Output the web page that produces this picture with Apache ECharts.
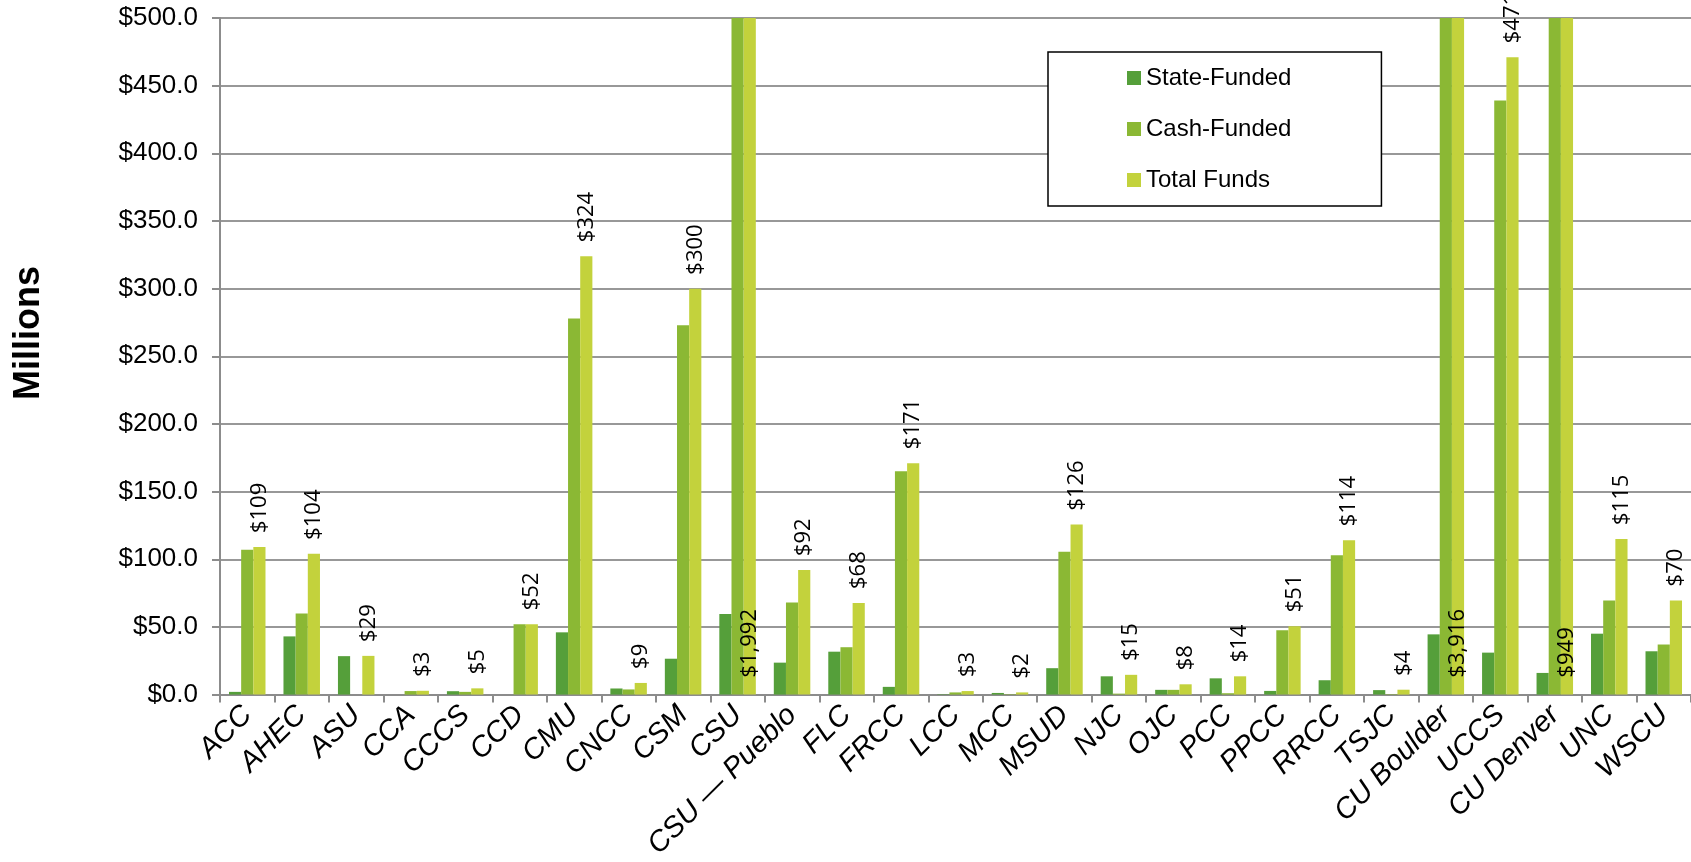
<!DOCTYPE html>
<html>
<head>
<meta charset="utf-8">
<script src="https://cdn.jsdelivr.net/npm/echarts@6/dist/echarts.min.js"></script>
<style>
html,body{margin:0;padding:0;background:#fff;}
#chart{width:1691px;height:862px;}
</style>
</head>
<body>
<div id="chart"></div>
<script>
const categories = ["ACC","AHEC","ASU","CCA","CCCS","CCD","CMU","CNCC","CSM","CSU","CSU \u2014 Pueblo","FLC","FRCC","LCC","MCC","MSUD","NJC","OJC","PCC","PPCC","RRCC","TSJC","CU Boulder","UCCS","CU Denver","UNC","WSCU"];
const stateFunded = [2, 43, 28.4, 0, 2.5, 0, 46, 4.5, 26.5, 59.5, 23.6, 31.7, 5.7, 0.3, 1.2, 19.5, 13.5, 3.5, 12, 2.7, 10.6, 3.3, 44.5, 31, 16, 45, 32];
const cashFunded = [107, 60, 0, 2.6, 2.0, 52, 278, 3.8, 273, 1932, 68, 35, 165, 1.6, 0.3, 105.5, 0.7, 3.5, 1, 47.5, 103, 0.3, 3871, 439, 933, 69.5, 37];
const totalFunds = [109, 104, 28.6, 2.8, 4.6, 52, 324, 8.6, 300, 1992, 92, 67.7, 171, 2.6, 1.6, 125.6, 14.6, 7.6, 13.5, 50.5, 114, 3.6, 3916, 471, 949, 115, 69.6];
const seriesNames = ["State-Funded", "Cash-Funded", "Total Funds"];
const yMin = 0, yMax = 500, yStep = 50;

const colors = ['#559F3A', '#8BB834', '#C3D23C'];
const axisFont = 'Liberation Sans, Arial, sans-serif';
const labelFont = 'Open Sans, sans-serif';

function fmtLabel(v){ return '$' + Math.round(v).toLocaleString('en-US'); }

const totalData = totalFunds.map(v => {
  const over = v > yMax;
  return {
    value: v,
    label: {
      show: true,
      position: over ? 'insideBottom' : 'top',
      distance: over ? 17 : 14,
      rotate: 90,
      align: 'left',
      verticalAlign: 'middle',
      formatter: fmtLabel(v),
      color: '#000',
      fontFamily: labelFont,
      fontSize: 22
    }
  };
});

const chart = echarts.init(document.getElementById('chart'), null, {renderer: 'canvas'});
chart.setOption({
  animation: false,
  backgroundColor: '#fff',
  color: colors,
  grid: {left: 220, right: -5, top: 18, bottom: 162, containLabel: false},
  legend: {
    orient: 'vertical',
    left: 1048,
    top: 52,
    data: seriesNames,
    icon: 'rect',
    itemWidth: 14,
    itemHeight: 14,
    itemGap: 27,
    padding: [14, 90, 14, 79],
    borderColor: '#000',
    borderWidth: 1.5,
    backgroundColor: '#fff',
    textStyle: {fontFamily: axisFont, fontSize: 24, color: '#000'}
  },
  graphic: [{
    type: 'text',
    x: 29, y: 333,
    rotation: Math.PI / 2,
    style: {
      text: 'Millions',
      font: 'bold 36px ' + axisFont,
      fill: '#000',
      textAlign: 'center',
      textVerticalAlign: 'middle'
    }
  }],
  xAxis: {
    type: 'category',
    data: categories,
    axisLine: {lineStyle: {color: '#8C8C8C', width: 2}},
    axisTick: {show: true, length: 8, lineStyle: {color: '#8C8C8C', width: 2}},
    axisLabel: {
      rotate: 45,
      interval: 0,
      margin: 16,
      color: '#000',
      fontFamily: axisFont,
      fontStyle: 'italic',
      fontSize: 29
    }
  },
  yAxis: {
    type: 'value',
    min: yMin, max: yMax, interval: yStep,
    axisLine: {show: true, lineStyle: {color: '#8C8C8C', width: 2}},
    axisTick: {show: true, length: 8, lineStyle: {color: '#8C8C8C', width: 2}},
    splitLine: {show: true, lineStyle: {color: '#989898', width: 2}},
    axisLabel: {
      margin: 22,
      color: '#000',
      fontFamily: axisFont,
      fontSize: 26,
      formatter: v => '$' + v.toFixed(1)
    }
  },
  series: [
    {name: seriesNames[0], type: 'bar', data: stateFunded, barGap: '0%', barCategoryGap: '33%', clip: true, itemStyle: {color: colors[0]}},
    {name: seriesNames[1], type: 'bar', data: cashFunded, barGap: '0%', barCategoryGap: '33%', clip: true, itemStyle: {color: colors[1]}},
    {name: seriesNames[2], type: 'bar', data: totalData, barGap: '0%', barCategoryGap: '33%', clip: true, itemStyle: {color: colors[2]}}
  ]
});
</script>
</body>
</html>
